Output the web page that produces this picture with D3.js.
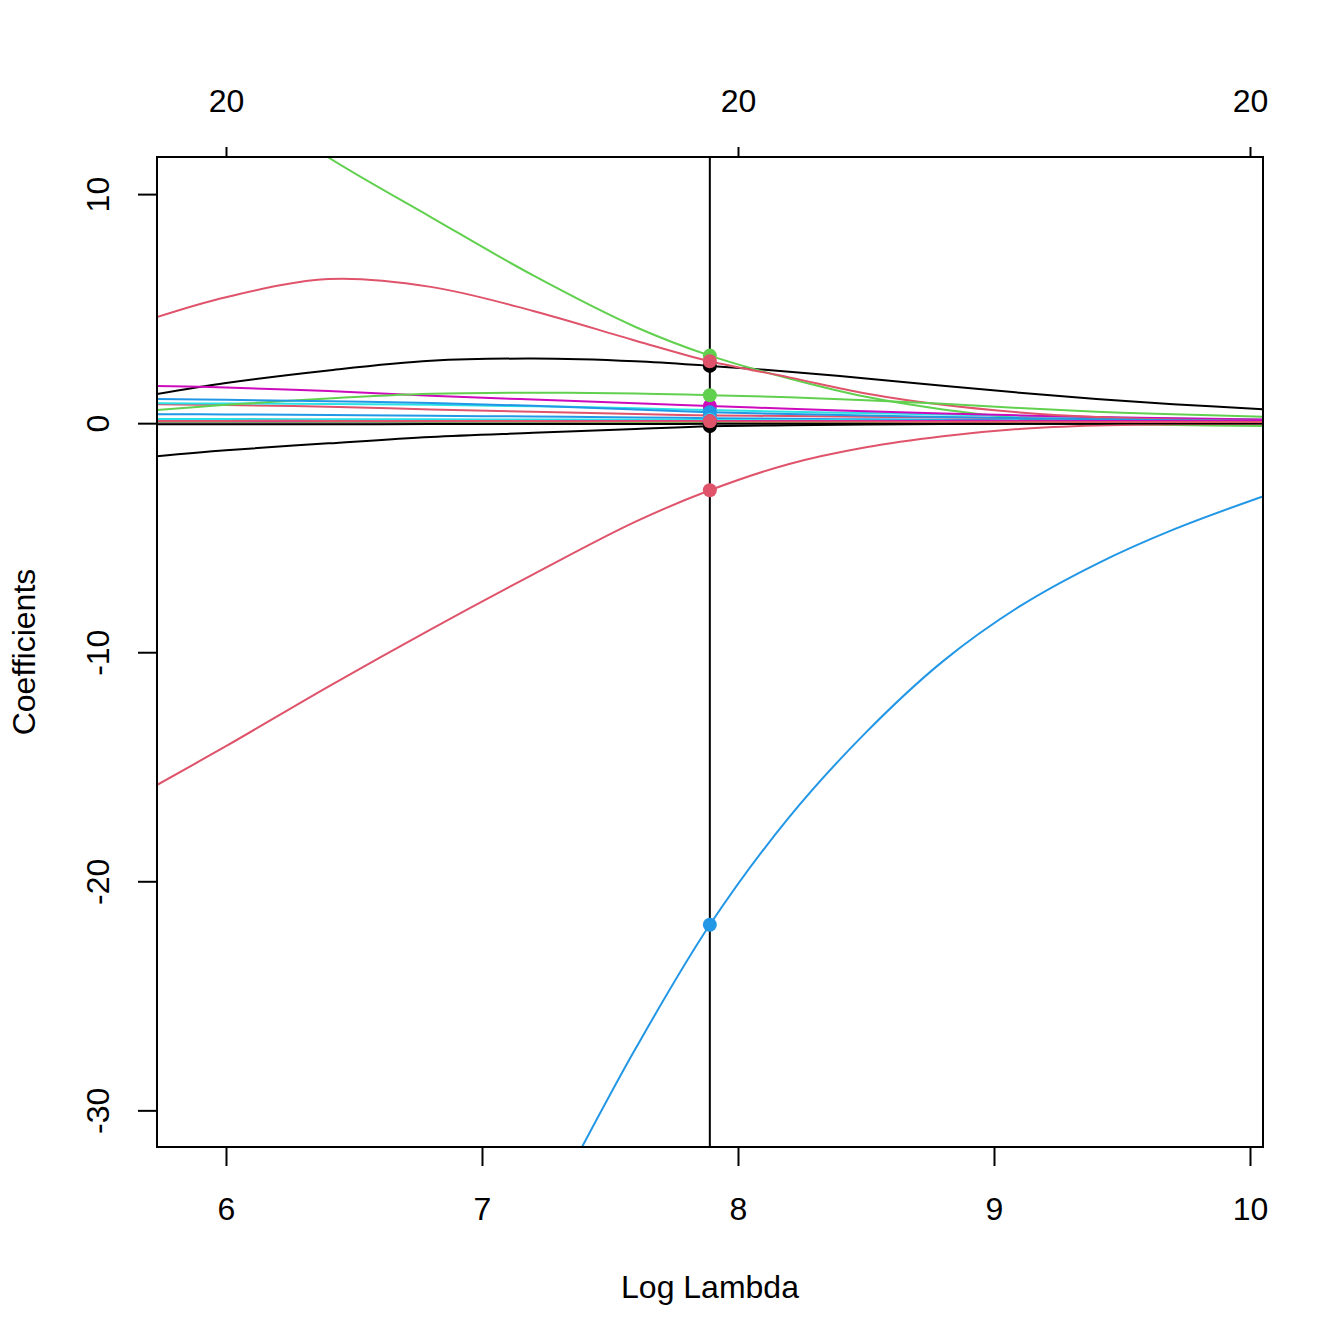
<!DOCTYPE html>
<html>
<head>
<meta charset="utf-8">
<script src="https://cdn.jsdelivr.net/npm/d3@7"></script>
<style>
  body { margin: 0; background: #fff; }
  text { font-family: "Liberation Sans", Arial, Helvetica, sans-serif; font-size: 32px; fill: #000; }
</style>
</head>
<body>
<svg width="1344" height="1344"></svg>
<script>
// log(lambda) grid the coefficient paths are read at
var logLambda = [5.73, 6.0, 6.4, 6.8, 7.2, 7.6, 7.89, 8.2, 8.5, 8.8, 9.1, 9.4, 9.7, 10.05];
var selLambda = 7.89;

// one row per coefficient (column order of the fit), values at logLambda
var coefs = [
  [1.27, 1.75, 2.3, 2.72, 2.82, 2.7, 2.5, 2.25, 1.95, 1.63, 1.33, 1.06, 0.83, 0.61],       // 1
  [0.83, 0.79, 0.72, 0.6, 0.5, 0.4, 0.34, 0.31, 0.28, 0.25, 0.22, 0.19, 0.16, 0.13],       // 2
  [16.5, 14.6, 11.6, 9.0, 6.45, 4.2, 2.95, 1.95, 1.15, 0.6, 0.22, 0.0, -0.08, -0.12],     // 3
  [0.39, 0.38, 0.36, 0.32, 0.29, 0.25, 0.22, 0.19, 0.17, 0.15, 0.13, 0.11, 0.09, 0.08],    // 4
  [0.87, 0.86, 0.84, 0.8, 0.74, 0.65, 0.57, 0.5, 0.44, 0.38, 0.32, 0.26, 0.2, 0.15],       // 5
  [1.62, 1.56, 1.4, 1.2, 1.03, 0.87, 0.75, 0.63, 0.52, 0.42, 0.34, 0.27, 0.21, 0.16],      // 6
  [-1.44, -1.18, -0.88, -0.6, -0.42, -0.25, -0.13, -0.09, -0.06, -0.04, -0.03, -0.02, -0.01, 0.0], // 7
  [4.63, 5.5, 6.29, 5.95, 4.9, 3.6, 2.7, 2.0, 1.3, 0.8, 0.47, 0.27, 0.16, 0.1],           // 8
  [0.57, 0.8, 1.08, 1.28, 1.33, 1.3, 1.22, 1.13, 1.0, 0.85, 0.66, 0.5, 0.39, 0.28],        // 9
  [1.05, 1.02, 0.96, 0.88, 0.76, 0.6, 0.48, 0.4, 0.33, 0.27, 0.22, 0.17, 0.13, 0.1],       // 10
  [0.13, 0.13, 0.13, 0.13, 0.12, 0.12, 0.12, 0.11, 0.1, 0.1, 0.09, 0.08, 0.08, 0.07],      // 11
  [0.03, 0.03, 0.03, 0.03, 0.03, 0.04, 0.04, 0.04, 0.04, 0.04, 0.04, 0.04, 0.04, 0.04],    // 12
  [0.06, 0.06, 0.06, 0.06, 0.06, 0.06, 0.05, 0.05, 0.05, 0.05, 0.04, 0.04, 0.04, 0.03],    // 13
  [-15.8, -14.1, -11.5, -9.0, -6.6, -4.3, -2.93, -1.78, -1.05, -0.57, -0.25, -0.1, -0.05, -0.02], // 14
  [0.05, 0.05, 0.05, 0.05, 0.05, 0.05, 0.05, 0.05, 0.04, 0.04, 0.04, 0.03, 0.03, 0.03],    // 15
  [-62, -57, -50, -43, -35.5, -27.3, -21.9, -17.2, -13.5, -10.4, -8.0, -6.15, -4.65, -3.2], // 16
  [0.18, 0.18, 0.17, 0.17, 0.16, 0.15, 0.14, 0.13, 0.12, 0.11, 0.1, 0.09, 0.08, 0.08],     // 17
  [0.08, 0.08, 0.08, 0.08, 0.08, 0.09, 0.09, 0.09, 0.09, 0.1, 0.1, 0.1, 0.1, 0.1],         // 18
  [-0.05, -0.05, -0.05, -0.04, -0.04, -0.04, -0.03, -0.03, -0.03, -0.02, -0.02, -0.02, -0.01, -0.01], // 19
  [0.1, 0.1, 0.1, 0.09, 0.09, 0.08, 0.08, 0.07, 0.07, 0.06, 0.06, 0.05, 0.05, 0.05]        // 20
];

// R palette, matplot cycles col = 1:6
var palette = ["#000000", "#DF536B", "#61D04F", "#2297E6", "#28E2E5", "#CD0BBC"];

var xTicks = [6, 7, 8, 9, 10];
var yTicks = [-30, -20, -10, 0, 10];
var dfAt = [6, 8, 10];
var dfLabels = ["20", "20", "20"];

(function() {
  var svg = d3.select("svg");
  var pLeft = 157, pRight = 1263, pTop = 157, pBottom = 1147;

  var x = d3.scaleLinear().domain([5.7305, 10.0508]).range([pLeft, pRight]);
  var y = d3.scaleLinear().domain([-31.6, 11.62]).range([pBottom, pTop]);

  svg.append("rect").attr("width", 1344).attr("height", 1344).attr("fill", "#fff");

  svg.append("defs").append("clipPath").attr("id", "plotclip")
    .append("rect")
    .attr("x", pLeft).attr("y", pTop)
    .attr("width", pRight - pLeft).attr("height", pBottom - pTop);

  var plot = svg.append("g").attr("clip-path", "url(#plotclip)");

  var line = d3.line()
    .x(function(d, i) { return x(logLambda[i]); })
    .y(function(d) { return y(d); })
    .curve(d3.curveCatmullRom.alpha(0.5));

  plot.selectAll("path.coef")
    .data(coefs)
    .enter().append("path")
    .attr("class", "coef")
    .attr("d", line)
    .attr("fill", "none")
    .attr("stroke", function(d, i) { return palette[i % 6]; })
    .attr("stroke-width", 2);

  // selected lambda
  plot.append("line")
    .attr("x1", x(selLambda)).attr("x2", x(selLambda))
    .attr("y1", pTop).attr("y2", pBottom)
    .attr("stroke", "#000").attr("stroke-width", 2);

  var selIdx = logLambda.indexOf(selLambda);
  plot.selectAll("circle")
    .data(coefs)
    .enter().append("circle")
    .attr("cx", x(selLambda))
    .attr("cy", function(d) { return y(d[selIdx]); })
    .attr("r", 7)
    .attr("fill", function(d, i) { return palette[i % 6]; });

  // box
  svg.append("rect")
    .attr("x", pLeft).attr("y", pTop)
    .attr("width", pRight - pLeft).attr("height", pBottom - pTop)
    .attr("fill", "none").attr("stroke", "#000").attr("stroke-width", 2);

  var plain = function(d) { return String(d); };

  // bottom axis
  var xAxis = svg.append("g").attr("transform", "translate(0," + pBottom + ")")
    .call(d3.axisBottom(x).tickValues(xTicks).tickSize(19).tickPadding(0).tickFormat(plain));
  xAxis.select(".domain").remove();
  xAxis.selectAll("line").attr("stroke-width", 2);
  xAxis.selectAll("text").attr("dy", null).attr("y", 73).style("font-size", "32px");

  // left axis
  var yAxis = svg.append("g").attr("transform", "translate(" + pLeft + ",0)")
    .call(d3.axisLeft(y).tickValues(yTicks).tickSize(19).tickFormat(plain));
  yAxis.select(".domain").remove();
  yAxis.selectAll("line").attr("stroke-width", 2);
  yAxis.selectAll("text")
    .attr("x", null).attr("dy", null)
    .attr("text-anchor", "middle")
    .attr("transform", "translate(-48,0) rotate(-90)")
    .style("font-size", "32px");

  // top axis: number of nonzero coefficients
  var topAxis = svg.append("g").attr("transform", "translate(0," + pTop + ")")
    .call(d3.axisTop(x).tickValues(dfAt).tickSize(10).tickFormat(function(d, i) { return dfLabels[i]; }));
  topAxis.select(".domain").remove();
  topAxis.selectAll("line").attr("stroke-width", 2);
  topAxis.selectAll("text").attr("dy", null).attr("y", -45).style("font-size", "32px");

  svg.append("text")
    .attr("x", (pLeft + pRight) / 2).attr("y", 1298)
    .attr("text-anchor", "middle")
    .text("Log Lambda");

  svg.append("text")
    .attr("transform", "translate(35," + (pTop + pBottom) / 2 + ") rotate(-90)")
    .attr("text-anchor", "middle")
    .text("Coefficients");
})();
</script>
</body>
</html>
